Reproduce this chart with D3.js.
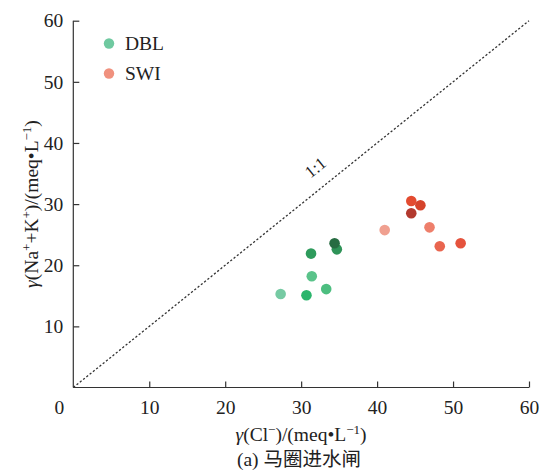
<!DOCTYPE html>
<html><head><meta charset="utf-8">
<script src="https://cdn.jsdelivr.net/npm/d3@7"></script>
<style>body{margin:0;background:#fff}svg{display:block}text{font-family:"Liberation Serif","DejaVu Serif",serif;fill:#222}</style>
</head><body>
<svg id="c" width="548" height="473"></svg>
<script>
const seriesNames = ["DBL", "SWI"];
const legendColors = ["#6fc9a0", "#f0917e"];
const dblCl = [27.3, 30.7, 33.3, 31.4, 31.3, 34.7, 34.4];
const dblNaK = [15.3, 15.1, 16.1, 18.2, 21.9, 22.6, 23.6];
const dblColors = ["#76caa3", "#2bb56c", "#4dbe80", "#5ac38a", "#2e9b5c", "#2f9358", "#276c42"];
const swiCl = [41.0, 44.5, 45.7, 44.5, 46.9, 48.25, 51.0];
const swiNaK = [25.75, 30.5, 29.8, 28.5, 26.2, 23.1, 23.6];
const swiColors = ["#f0a090", "#e34b30", "#d5432b", "#b2392e", "#ee7f6b", "#e9654f", "#e5533d"];
const xTicks = [10, 20, 30, 40, 50, 60];
const yTicks = [10, 20, 30, 40, 50, 60];
const caption = "(a) 马圈进水闸";

const FS = 19.5, SUP = 13;
const svg = d3.select("#c");
const x = d3.scaleLinear().domain([0, 60]).range([73.3, 529]);
const y = d3.scaleLinear().domain([0, 60]).range([387.5, 20.7]);

// 1:1 line
svg.append("line")
  .attr("x1", x(0)).attr("y1", y(0)).attr("x2", x(60)).attr("y2", y(60))
  .attr("stroke", "#333").attr("stroke-width", 1.3).attr("stroke-dasharray", "2.2,2");

// axes
const xa = svg.append("g").attr("transform", `translate(0,${y(0)})`)
  .call(d3.axisBottom(x).tickValues(xTicks).tickSize(-6).tickPadding(13).tickSizeOuter(0));
const ya = svg.append("g").attr("transform", `translate(${x(0)},0)`)
  .call(d3.axisLeft(y).tickValues(yTicks).tickSize(-6).tickPadding(10).tickSizeOuter(0));
[xa, ya].forEach(a => {
  a.attr("font-family", null).attr("font-size", null);
  a.select(".domain").attr("stroke", "#333").attr("stroke-width", 1.2);
  a.selectAll(".tick line").attr("stroke", "#333").attr("stroke-width", 1.2);
  a.selectAll(".tick text").attr("font-size", FS).attr("fill", "#222");
});
xa.select(".domain").attr("d", `M${x(0)},0H${x(60)}`);
ya.select(".domain").attr("d", `M0,${y(0)}V${y(60)}`);
// origin label
svg.append("text").attr("x", x(0) - 14).attr("y", y(0) + 26).attr("text-anchor", "middle")
  .attr("font-size", FS).text("0");

// points
const dbl = dblCl.map((v, i) => ({cl: v, nk: dblNaK[i], c: dblColors[i]}));
const swi = swiCl.map((v, i) => ({cl: v, nk: swiNaK[i], c: swiColors[i]}));
svg.append("g").selectAll("circle").data(dbl.concat(swi)).join("circle")
  .attr("cx", d => x(d.cl)).attr("cy", d => y(d.nk)).attr("r", 5.3).attr("fill", d => d.c);

// 1:1 label
svg.append("text").attr("transform", `translate(319,172) rotate(-38.8)`)
  .attr("text-anchor", "middle").attr("font-size", 17).text("1:1");

// legend
seriesNames.forEach((n, i) => {
  const yy = 43.5 + i * 30;
  svg.append("circle").attr("cx", 109).attr("cy", yy).attr("r", 5.2).attr("fill", legendColors[i]);
  svg.append("text").attr("x", 125).attr("y", yy + 6.5).attr("font-size", FS).text(n);
});

// x label
const xl = svg.append("text").attr("x", 301).attr("y", 441).attr("text-anchor", "middle").attr("font-size", FS);
xl.append("tspan").attr("font-style", "italic").text("γ");
xl.append("tspan").text("(Cl");
xl.append("tspan").attr("baseline-shift", "super").attr("font-size", SUP).text("−");
xl.append("tspan").text(")/(meq•L");
xl.append("tspan").attr("baseline-shift", "super").attr("font-size", SUP).text("−1");
xl.append("tspan").text(")");

// y label
const yl = svg.append("text").attr("transform", `translate(38,204) rotate(-90)`).attr("text-anchor", "middle").attr("font-size", FS);
yl.append("tspan").attr("font-style", "italic").text("γ");
yl.append("tspan").text("(Na");
yl.append("tspan").attr("baseline-shift", "super").attr("font-size", SUP).text("+");
yl.append("tspan").text("+K");
yl.append("tspan").attr("baseline-shift", "super").attr("font-size", SUP).text("+");
yl.append("tspan").text(")/(meq•L");
yl.append("tspan").attr("baseline-shift", "super").attr("font-size", SUP).text("−1");
yl.append("tspan").text(")");

// caption
const cap = svg.append("text").attr("x", 299).attr("y", 466).attr("text-anchor", "middle").attr("font-size", FS);
cap.append("tspan").text("(a) ");
cap.append("tspan").attr("font-family", "Noto Sans CJK SC").attr("font-size", 19.5).text(caption.slice(4));
</script>
</body></html>
